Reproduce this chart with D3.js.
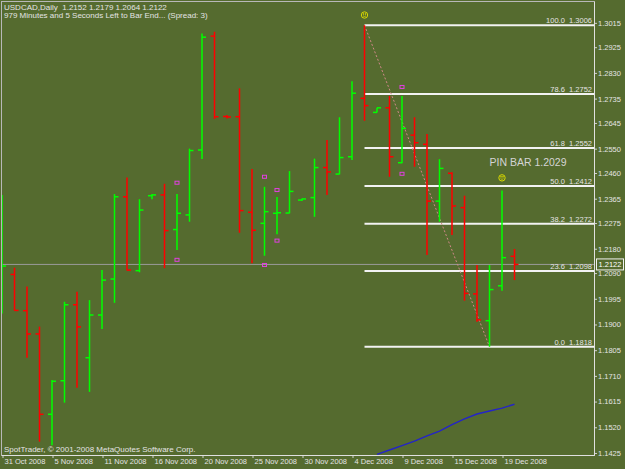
<!DOCTYPE html>
<html>
<head>
<meta charset="utf-8">
<script src="https://cdnjs.cloudflare.com/ajax/libs/d3/7.8.5/d3.min.js"></script>
<style>
  body { margin: 0; background: #556b2f; }
  svg { display: block; }
  text { font-family: "Liberation Sans", Arial, sans-serif; white-space: pre; }
</style>
</head>
<body>
<div id="chart"></div>
<script>
// ===== Data =====
const dates = [
  "31 Oct 2008", "2 Nov 2008", "3 Nov 2008", "4 Nov 2008", "5 Nov 2008", "6 Nov 2008",
  "7 Nov 2008", "10 Nov 2008", "11 Nov 2008", "12 Nov 2008", "13 Nov 2008", "14 Nov 2008",
  "16 Nov 2008", "17 Nov 2008", "18 Nov 2008", "19 Nov 2008", "20 Nov 2008", "21 Nov 2008",
  "23 Nov 2008", "24 Nov 2008", "25 Nov 2008", "26 Nov 2008", "27 Nov 2008", "28 Nov 2008",
  "30 Nov 2008", "1 Dec 2008", "2 Dec 2008", "3 Dec 2008", "4 Dec 2008", "5 Dec 2008",
  "7 Dec 2008", "8 Dec 2008", "9 Dec 2008", "10 Dec 2008", "11 Dec 2008", "12 Dec 2008",
  "15 Dec 2008", "16 Dec 2008", "17 Dec 2008", "18 Dec 2008", "19 Dec 2008", "22 Dec 2008"
];
const opens = [
  1.2000, 1.2085, 1.1951, 1.1865, 1.1568, 1.1692, 1.1973, 1.1777, 1.1935, 1.2068, 1.2372, 1.2099,
  1.2376, 1.2379, 1.2251, 1.2305, 1.2545, 1.2966, 1.2669, 1.2668, 1.2315, 1.2274, 1.2311, 1.2312,
  1.2360, 1.2369, 1.2480, 1.2456, 1.2520, 1.2736, 1.2684, 1.2701, 1.2498, 1.2600, 1.2566, 1.2356,
  1.2459, 1.2332, 1.2013, 1.1914, 1.2043, 1.2152
];
const highs = [
  1.2379, 1.2110, 1.2040, 1.1892, 1.1695, 1.1984, 1.2021, 1.1990, 1.2101, 1.2382, 1.2443, 1.2363,
  1.2382, 1.2420, 1.2382, 1.2550, 1.2976, 1.2982, 1.2674, 1.2773, 1.2475, 1.2409, 1.2371, 1.2467,
  1.2366, 1.2513, 1.2582, 1.2666, 1.2799, 1.3006, 1.2701, 1.2745, 1.2745, 1.2666, 1.2604, 1.2511,
  1.2463, 1.2376, 1.2120, 1.2120, 1.2395, 1.2179
];
const lows = [
  1.1941, 1.1951, 1.1777, 1.1467, 1.1454, 1.1611, 1.1666, 1.1651, 1.1883, 1.1980, 1.2100, 1.2093,
  1.2363, 1.2108, 1.2175, 1.2280, 1.2512, 1.2660, 1.2661, 1.2239, 1.2126, 1.2154, 1.2234, 1.2311,
  1.2356, 1.2298, 1.2379, 1.2455, 1.2508, 1.2653, 1.2684, 1.2446, 1.2496, 1.2483, 1.2157, 1.2280,
  1.2231, 1.1988, 1.1910, 1.1818, 1.2025, 1.2064
];
const closes = [
  1.2116, 1.1952, 1.1865, 1.1568, 1.1690, 1.1973, 1.1891, 1.1935, 1.2064, 1.2372, 1.2101, 1.2323,
  1.2379, 1.2247, 1.2311, 1.2543, 1.2962, 1.2668, 1.2667, 1.2321, 1.2248, 1.2317, 1.2313, 1.2392,
  1.2364, 1.2480, 1.2464, 1.2517, 1.2755, 1.2709, 1.2701, 1.2520, 1.2625, 1.2572, 1.2356, 1.2477,
  1.2338, 1.2015, 1.1917, 1.2029, 1.2147, 1.2122
];

// moving average (only the part inside the window), starting at bar 30
const maStart = 30;
const maValues = [1.1420, 1.1436, 1.1452, 1.1469, 1.1488, 1.1506, 1.1530, 1.1551, 1.1569, 1.1580, 1.1591, 1.1605];

// fractal markers
const fractalUpBars = [14, 21, 22, 32];
const fractalUpPrices = [1.2424, 1.2446, 1.2397, 1.2778];
const fractalDownBars = [14, 21, 22, 32];
const fractalDownPrices = [1.2139, 1.2120, 1.2210, 1.2457];

// fibonacci retracement
const fibFromBar = 29;
const fibToBar = 39;
const fibLevels = [100.0, 78.6, 61.8, 50.0, 38.2, 23.6, 0.0];
const fibPrices = [1.3006, 1.2752, 1.2552, 1.2412, 1.2272, 1.2098, 1.1818];

// smiley markers
const smileyBars = [29, 40];
const smileyPrices = [1.3044, 1.2442];

const bidPrice = 1.2122;
const yTicks = [1.3015, 1.2925, 1.2830, 1.2735, 1.2645, 1.2550, 1.2460, 1.2365, 1.2275,
  1.2180, 1.2090, 1.1995, 1.1900, 1.1805, 1.1710, 1.1615, 1.1520, 1.1425];
const xTickDates = ["31 Oct 2008", "5 Nov 2008", "11 Nov 2008", "16 Nov 2008", "20 Nov 2008",
  "25 Nov 2008", "30 Nov 2008", "4 Dec 2008", "9 Dec 2008", "15 Dec 2008", "19 Dec 2008"];

// ===== Layout =====
const W = 625, H = 469;
const plot = { left: 2, right: 594, top: 2, bottom: 455 };
const bull = "#00ff00", bear = "#ff0000", txt = "#e4e4e4";

const svg = d3.select("#chart").append("svg").attr("width", W).attr("height", H);
svg.append("rect").attr("width", W).attr("height", H).attr("fill", "#556b2f");

svg.append("clipPath").attr("id", "clip")
  .append("rect")
  .attr("x", plot.left).attr("y", plot.top)
  .attr("width", plot.right - plot.left).attr("height", plot.bottom - plot.top);

const x = d3.scalePoint().domain(dates).range([2, 514.5]);
const y = d3.scaleLinear().domain([1.14175, 1.30921]).range([plot.bottom, plot.top]);

// frame
svg.append("rect")
  .attr("x", plot.left - 0.5).attr("y", plot.top - 0.5)
  .attr("width", plot.right - plot.left + 1).attr("height", plot.bottom - plot.top + 1)
  .attr("fill", "none").attr("stroke", "#b8b8b8").attr("stroke-width", 1);

const g = svg.append("g").attr("clip-path", "url(#clip)");

// ===== Header text =====
svg.append("text").attr("x", 4).attr("y", 10).attr("font-size", 8).attr("fill", txt)
  .text("USDCAD,Daily  1.2152 1.2179 1.2064 1.2122");
svg.append("text").attr("x", 4).attr("y", 18).attr("font-size", 8).attr("fill", txt)
  .text("979 Minutes and 5 Seconds Left to Bar End... (Spread: 3)");
svg.append("text").attr("x", 4).attr("y", 451.5).attr("font-size", 8).attr("fill", txt)
  .text("SpotTrader, © 2001-2008 MetaQuotes Software Corp.");

// ===== bid line =====
g.append("line")
  .attr("x1", plot.left).attr("x2", plot.right)
  .attr("y1", y(bidPrice)).attr("y2", y(bidPrice))
  .attr("stroke", "#9a9a9a").attr("stroke-width", 1);

// ===== moving average =====
const maData = maValues.map((v, i) => ({ d: dates[maStart + i], v }));
g.append("path").datum(maData)
  .attr("fill", "none").attr("stroke", "#2424c8").attr("stroke-width", 1.4)
  .attr("d", d3.line().x((d) => x(d.d)).y((d) => y(d.v)));

// ===== fibonacci =====
const fibX = x(dates[fibFromBar]);
g.selectAll(".fib").data(fibLevels).enter().append("line")
  .attr("x1", fibX).attr("x2", plot.right)
  .attr("y1", (d, i) => y(fibPrices[i])).attr("y2", (d, i) => y(fibPrices[i]))
  .attr("stroke", "#f2f2f2").attr("stroke-width", 2);
svg.selectAll(".fibLabel").data(fibLevels).enter().append("text")
  .attr("x", plot.right - 2).attr("y", (d, i) => y(fibPrices[i]) - 2)
  .attr("text-anchor", "end").attr("font-size", 7.5).attr("fill", txt)
  .text((d, i) => d3.format(".1f")(d) + "  " + d3.format(".4f")(fibPrices[i]));
g.append("line")
  .attr("x1", x(dates[fibFromBar])).attr("y1", y(highs[fibFromBar]))
  .attr("x2", x(dates[fibToBar])).attr("y2", y(lows[fibToBar]))
  .attr("stroke", "#d08888").attr("stroke-width", 1).attr("stroke-dasharray", "2,2");

// ===== OHLC bars =====
const bars = dates.map((d, i) => ({ d, o: opens[i], h: highs[i], l: lows[i], c: closes[i] }));
const bg = g.selectAll(".bar").data(bars).enter().append("g")
  .attr("stroke", (d) => (d.c >= d.o ? bull : bear));
bg.append("line")
  .attr("x1", (d) => x(d.d)).attr("x2", (d) => x(d.d))
  .attr("y1", (d) => y(d.h)).attr("y2", (d) => y(d.l))
  .attr("stroke-width", 1.5);
bg.append("line")
  .attr("x1", (d) => x(d.d) - 4).attr("x2", (d) => x(d.d))
  .attr("y1", (d) => y(d.o)).attr("y2", (d) => y(d.o))
  .attr("stroke-width", 1.5);
bg.append("line")
  .attr("x1", (d) => x(d.d)).attr("x2", (d) => x(d.d) + 4)
  .attr("y1", (d) => y(d.c)).attr("y2", (d) => y(d.c))
  .attr("stroke-width", 1.5);

// ===== fractals =====
const fr = fractalUpBars.map((b, i) => ({ b, p: fractalUpPrices[i] }))
  .concat(fractalDownBars.map((b, i) => ({ b, p: fractalDownPrices[i] })));
g.selectAll(".frac").data(fr).enter().append("rect")
  .attr("x", (d) => x(dates[d.b]) - 2).attr("y", (d) => y(d.p) - 1.5)
  .attr("width", 4).attr("height", 3)
  .attr("fill", "none").attr("stroke", "#e040e0").attr("stroke-width", 1);

// ===== smileys =====
const sm = g.selectAll(".smile").data(smileyBars).enter().append("g")
  .attr("transform", (d, i) => `translate(${x(dates[d])},${y(smileyPrices[i])})`)
  .attr("stroke", "#d8d800").attr("fill", "none");
sm.append("circle").attr("r", 3.2).attr("stroke-width", 1);
sm.append("path").attr("d", "M-1.5,0.8 Q0,2.2 1.5,0.8").attr("stroke-width", 0.8);
sm.append("circle").attr("cx", -1).attr("cy", -1).attr("r", 0.4).attr("fill", "#d8d800");
sm.append("circle").attr("cx", 1).attr("cy", -1).attr("r", 0.4).attr("fill", "#d8d800");

svg.append("text")
  .attr("x", x(dates[39])).attr("y", y(1.2486))
  .attr("font-size", 10.5).attr("fill", "#d4d4d4")
  .text("PIN BAR 1.2029");

// ===== axes =====
const yAxis = svg.append("g")
  .attr("transform", `translate(${plot.right},0)`)
  .call(d3.axisRight(y).tickValues(yTicks).tickSize(3).tickPadding(1).tickFormat(d3.format(".4f")));
yAxis.select(".domain").remove();
yAxis.selectAll("line").attr("stroke", "#d0d0d0");
yAxis.selectAll("text").attr("fill", txt).attr("font-size", 7.5)
  .attr("font-family", "Liberation Sans, Arial, sans-serif");

const xAxis = svg.append("g")
  .attr("transform", `translate(0,${plot.bottom})`)
  .call(d3.axisBottom(x).tickValues(xTickDates).tickSize(3));
xAxis.select(".domain").remove();
xAxis.selectAll("line").attr("stroke", "#d0d0d0").attr("transform", "translate(0.5,0)");
xAxis.selectAll("text").attr("fill", txt).attr("font-size", 7.5)
  .attr("font-family", "Liberation Sans, Arial, sans-serif")
  .attr("text-anchor", "start").attr("x", 2).attr("y", 4);

svg.append("line")
  .attr("x1", plot.right + 0.5).attr("x2", plot.right + 0.5)
  .attr("y1", plot.top).attr("y2", plot.bottom + 0.5)
  .attr("stroke", "#e0e0e0");
svg.append("line")
  .attr("x1", plot.left).attr("x2", plot.right + 0.5)
  .attr("y1", plot.bottom + 0.5).attr("y2", plot.bottom + 0.5)
  .attr("stroke", "#e0e0e0");

// bid price label
svg.append("rect")
  .attr("x", plot.right + 2.5).attr("y", y(bidPrice) - 5.5)
  .attr("width", 27).attr("height", 11)
  .attr("fill", "#556b2f").attr("stroke", "#f0f0f0");
svg.append("text")
  .attr("x", plot.right + 16).attr("y", y(bidPrice) + 3)
  .attr("text-anchor", "middle").attr("font-size", 7.5).attr("fill", "#ffffff")
  .text(d3.format(".4f")(bidPrice));
</script>
</body>
</html>
